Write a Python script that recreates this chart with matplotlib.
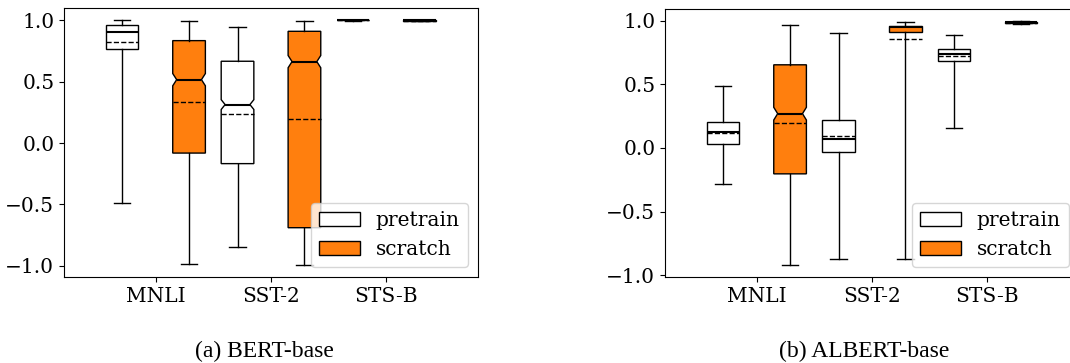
import matplotlib
matplotlib.use('Agg')
import matplotlib.pyplot as plt
from matplotlib.patches import Patch
from matplotlib.path import Path
import numpy as np

tasks = ['MNLI', 'SST-2', 'STS-B']
captions = ['(a) BERT-base', '(b) ALBERT-base']
series = ['pretrain', 'scratch']
colors = ['white', '#ff7f0e']

# one row per task: whislo, q1, median, q3, whishi, mean, notch half-height (0 = flat)
bert_pretrain = [
    [-0.489, 0.766, 0.902, 0.965, 1.000, 0.826, 0.00],
    [-0.845, -0.168, 0.313, 0.666, 0.948, 0.239, 0.04],
    [0.995, 0.998, 1.000, 1.000, 1.000, 0.999, 0.00],
]
bert_scratch = [
    [-0.986, -0.082, 0.516, 0.834, 0.992, 0.332, 0.05],
    [-0.992, -0.690, 0.663, 0.910, 0.992, 0.193, 0.05],
    [0.990, 0.997, 0.999, 1.000, 1.000, 0.994, 0.00],
]
albert_pretrain = [
    [-0.287, 0.034, 0.123, 0.206, 0.488, 0.120, 0.00],
    [-0.870, -0.031, 0.068, 0.222, 0.906, 0.097, 0.00],
    [0.159, 0.681, 0.739, 0.778, 0.885, 0.721, 0.00],
]
albert_scratch = [
    [-0.919, -0.204, 0.269, 0.653, 0.966, 0.196, 0.05],
    [-0.870, 0.908, 0.948, 0.961, 0.987, 0.857, 0.00],
    [0.975, 0.985, 0.990, 0.993, 0.995, 0.980, 0.00],
]
panels = [[bert_pretrain, bert_scratch], [albert_pretrain, albert_scratch]]

offset = 0.29
width = 0.283


def to_stats(rows):
    out = []
    for lo, q1, med, q3, hi, mean, ci in rows:
        out.append(dict(whislo=lo, q1=q1, med=med, q3=q3, whishi=hi,
                        mean=mean, cilo=med - ci, cihi=med + ci, fliers=[]))
    return out


def draw_group(ax, rows, pos, color):
    res = ax.bxp(to_stats(rows), positions=pos, widths=width,
                 shownotches=True, showmeans=True, meanline=True,
                 showfliers=False, patch_artist=True, manage_ticks=False,
                 boxprops=dict(facecolor=color, edgecolor='black', linewidth=1),
                 medianprops=dict(color='black', linewidth=1.5),
                 meanprops=dict(color='black', linestyle='--', linewidth=1),
                 whiskerprops=dict(color='black', linewidth=1),
                 capprops=dict(color='black', linewidth=1))
    # shallower notches than the default quarter-width indent
    for box, med, p, r in zip(res['boxes'], res['medians'], pos, rows):
        indent = 0.12 * width if r[6] > 0 else 0.0
        path = box.get_path()
        verts = path.vertices.copy()
        verts[3, 0] = p + width / 2 - indent
        verts[8, 0] = p - width / 2 + indent
        box.set_path(Path(verts, path.codes))
        med.set_xdata([p - width / 2 + indent, p + width / 2 - indent])


fig = plt.figure(figsize=(10.7, 3.63), dpi=100)
rects = [[0.0598, 0.2369, 0.3869, 0.741], [0.6215, 0.2369, 0.3869, 0.738]]
x = np.arange(len(tasks))

for rect, (pre, scr), cap in zip(rects, panels, captions):
    ax = fig.add_axes(rect)
    draw_group(ax, pre, x - offset, colors[0])
    draw_group(ax, scr, x + offset, colors[1])
    ax.set_xlim(-0.794, 2.794)
    ax.set_xticks(x)
    ax.set_xticklabels(tasks)
    ax.set_yticks([-1.0, -0.5, 0.0, 0.5, 1.0])
    for lab in ax.get_xticklabels() + ax.get_yticklabels():
        lab.set_family('DejaVu Serif')
        lab.set_fontsize(14.5)
    handles = [Patch(facecolor=c, edgecolor='black', label=s) for c, s in zip(colors, series)]
    ax.legend(handles=handles, loc='lower right',
              prop=dict(family='DejaVu Serif', size=14.5))
    cx = 0.247 if cap.startswith('(a)') else 0.808
    fig.text(cx, 0.033, cap, family='Liberation Serif', fontsize=17,
             ha='center', va='center')

fig.savefig('out.png', dpi=100)
